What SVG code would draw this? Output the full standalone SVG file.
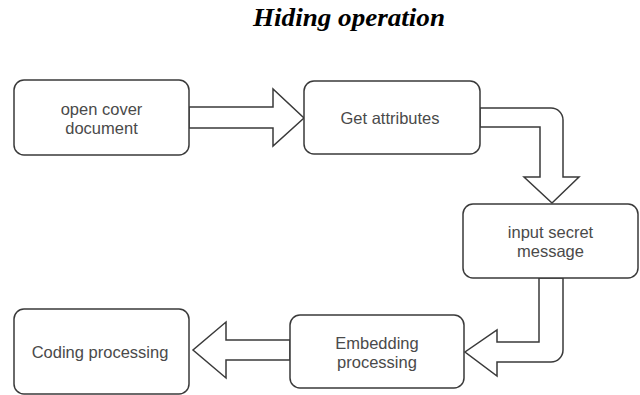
<svg xmlns="http://www.w3.org/2000/svg" width="640" height="395" viewBox="0 0 640 395">
<style>
.box{fill:#fff;stroke:#3a3a3a;stroke-width:1.5}
.arr{fill:#fff;stroke:#3a3a3a;stroke-width:1.5;stroke-linejoin:miter}
.lbl{font-family:"Liberation Sans",Arial,sans-serif;font-size:16.5px;fill:#4a4a4a;text-anchor:middle}
.title{font-family:"Liberation Serif","Times New Roman",serif;font-size:25px;font-weight:bold;font-style:italic;fill:#000;text-anchor:middle}
</style>
<rect width="640" height="395" fill="#fff"/>
<text class="title" x="349" y="26" textLength="192" lengthAdjust="spacingAndGlyphs">Hiding operation</text>
<g id="connectors">
<path class="arr" d="M189,107 L273,107 L273,89 L304,118 L273,146 L273,128 L189,128 Z"/>
<path class="arr" d="M480,108 L551,108 A12,12 0 0 1 563,120 L563,177 L579,177 L552,203 L524,177 L540,177 L540,127 L480,127 Z"/>
<path class="arr" d="M539,278 L539,342 L497,342 L497,330 L465,352 L497,376 L497,362 L551,362 A12,12 0 0 0 563,350 L563,278 Z"/>
<path class="arr" d="M290,340 L226,340 L226,322 L193,350 L226,378 L226,360 L290,360 Z"/>
</g>
<g id="open-cover">
<rect class="box" x="14" y="80" width="175" height="75" rx="10"/>
<text class="lbl" x="101.5" y="115">open cover</text>
<text class="lbl" x="101.5" y="134">document</text>
</g>
<g id="get-attributes">
<rect class="box" x="304" y="81" width="176" height="73" rx="10"/>
<text class="lbl" x="390" y="124">Get attributes</text>
</g>
<g id="input-secret">
<rect class="box" x="463" y="204" width="175" height="74" rx="10"/>
<text class="lbl" x="550.5" y="238">input secret</text>
<text class="lbl" x="550.5" y="257">message</text>
</g>
<g id="embedding">
<rect class="box" x="290" y="315" width="174" height="73" rx="10"/>
<text class="lbl" x="377" y="349">Embedding</text>
<text class="lbl" x="377" y="368">processing</text>
</g>
<g id="coding">
<rect class="box" x="14" y="309" width="175" height="85" rx="10"/>
<text class="lbl" x="100" y="358">Coding processing</text>
</g>
</svg>
